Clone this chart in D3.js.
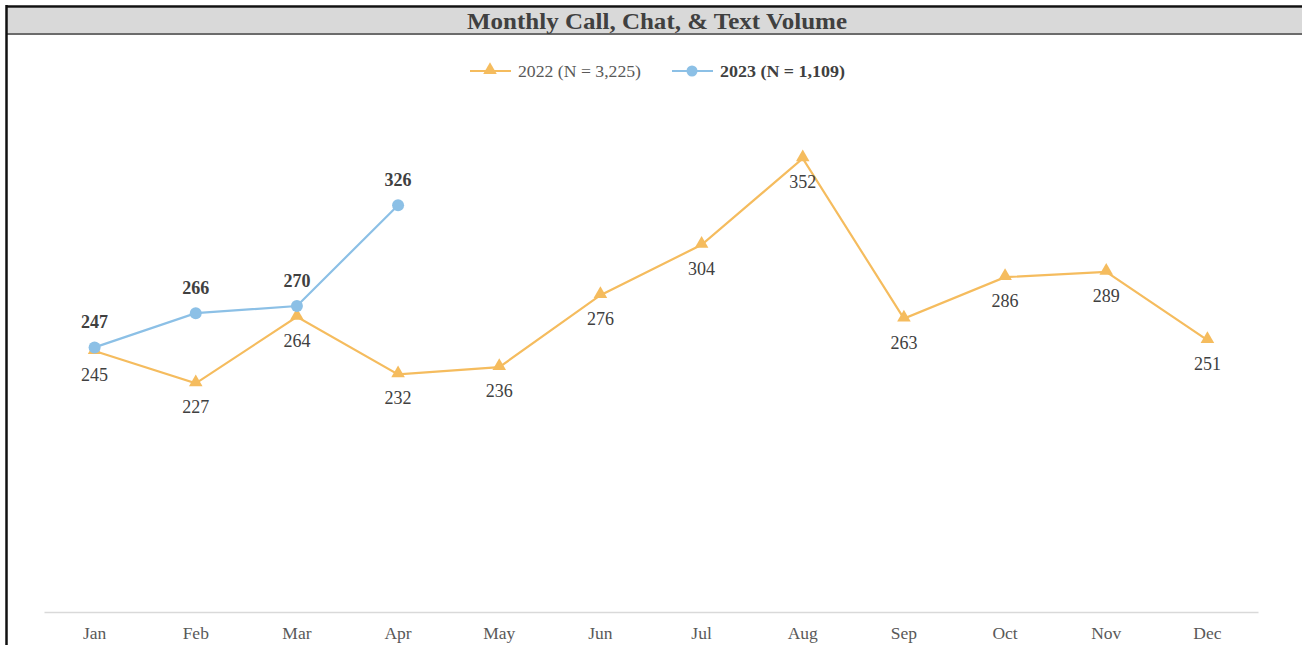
<!DOCTYPE html>
<html><head><meta charset="utf-8">
<script src="https://cdn.jsdelivr.net/npm/d3@7"></script>
<style>body{margin:0;background:#fff;}svg{display:block;font-family:"Liberation Serif","Times New Roman",serif;}</style>
</head><body><svg id="c" width="1302" height="645"></svg>
<script>
const months = ["Jan","Feb","Mar","Apr","May","Jun","Jul","Aug","Sep","Oct","Nov","Dec"];
const values2022 = [245,227,264,232,236,276,304,352,263,286,289,251];
const values2023 = [247,266,270,326];
const seriesNames = ["2022 (N = 3,225)","2023 (N = 1,109)"];
const titleText = "Monthly Call, Chat, & Text Volume";

const svg = d3.select("#c");
const W = 1302, H = 645;
const orange = "#F5BC5E", blue = "#8CC0E6", textCol = "#404040";

// frame
svg.append("rect").attr("x",6).attr("y",8).attr("width",W).attr("height",26).attr("fill","#d9d9d9");
svg.append("line").attr("x1",6).attr("x2",W).attr("y1",6.5).attr("y2",6.5).attr("stroke","#111").attr("stroke-width",2.5);
svg.append("line").attr("x1",6).attr("x2",W).attr("y1",34).attr("y2",34).attr("stroke","#6b6b6b").attr("stroke-width",2);
svg.append("line").attr("x1",6.5).attr("x2",6.5).attr("y1",5).attr("y2",H).attr("stroke","#111").attr("stroke-width",2.5);
svg.append("text").attr("x",657).attr("y",29).attr("text-anchor","middle")
  .attr("font-size",23).attr("font-weight","bold").attr("fill",textCol)
  .attr("textLength",380).attr("lengthAdjust","spacingAndGlyphs").text(titleText);

const x = d3.scaleBand().domain(months).range([44,1258]);
const y = d3.scaleLinear().domain([100,400]).range([612,72]);
const cx = m => x(m) + x.bandwidth()/2;

// axis
const ax = svg.append("g").attr("transform","translate(0,612)").call(d3.axisBottom(x).tickSize(0).tickPadding(15));
ax.select(".domain").attr("stroke","#d9d9d9").attr("stroke-width",1.5);
ax.selectAll("text").attr("font-size",17.5).attr("fill","#595959").attr("font-family","Liberation Serif, serif");

const line = d3.line().x((d,i)=>cx(months[i])).y(d=>y(d));
svg.append("path").datum(values2022).attr("d",line).attr("fill","none").attr("stroke",orange).attr("stroke-width",2.2);
svg.append("path").datum(values2023).attr("d",line).attr("fill","none").attr("stroke",blue).attr("stroke-width",2.2);

const tri = d3.symbol().type(d3.symbolTriangle).size(80);
svg.selectAll(".t").data(values2022).enter().append("path")
  .attr("d",tri).attr("transform",(d,i)=>`translate(${cx(months[i])},${y(d)-1})`).attr("fill",orange);
svg.selectAll(".c").data(values2023).enter().append("circle")
  .attr("cx",(d,i)=>cx(months[i])).attr("cy",d=>y(d)).attr("r",6).attr("fill",blue);

svg.selectAll(".l22").data(values2022).enter().append("text")
  .attr("x",(d,i)=>cx(months[i])).attr("y",d=>y(d)+30).attr("text-anchor","middle")
  .attr("font-size",18).attr("fill",textCol).text(d=>d);
svg.selectAll(".l23").data(values2023).enter().append("text")
  .attr("x",(d,i)=>cx(months[i])).attr("y",d=>y(d)-19).attr("text-anchor","middle")
  .attr("font-size",18).attr("font-weight","bold").attr("fill",textCol).text(d=>d);

// legend
const lg = svg.append("g");
lg.append("line").attr("x1",470).attr("x2",511).attr("y1",71).attr("y2",71).attr("stroke",orange).attr("stroke-width",2.2);
lg.append("path").attr("d",tri).attr("transform","translate(490,70)").attr("fill",orange);
lg.append("text").attr("x",518).attr("y",77).attr("font-size",17).attr("fill","#595959")
  .attr("textLength",123).attr("lengthAdjust","spacingAndGlyphs").text(seriesNames[0]);
lg.append("line").attr("x1",672).attr("x2",713).attr("y1",71).attr("y2",71).attr("stroke",blue).attr("stroke-width",2.2);
lg.append("circle").attr("cx",692).attr("cy",71).attr("r",5.5).attr("fill",blue);
lg.append("text").attr("x",720).attr("y",77).attr("font-size",17).attr("font-weight","bold").attr("fill",textCol)
  .attr("textLength",125).attr("lengthAdjust","spacingAndGlyphs").text(seriesNames[1]);
</script></body></html>
